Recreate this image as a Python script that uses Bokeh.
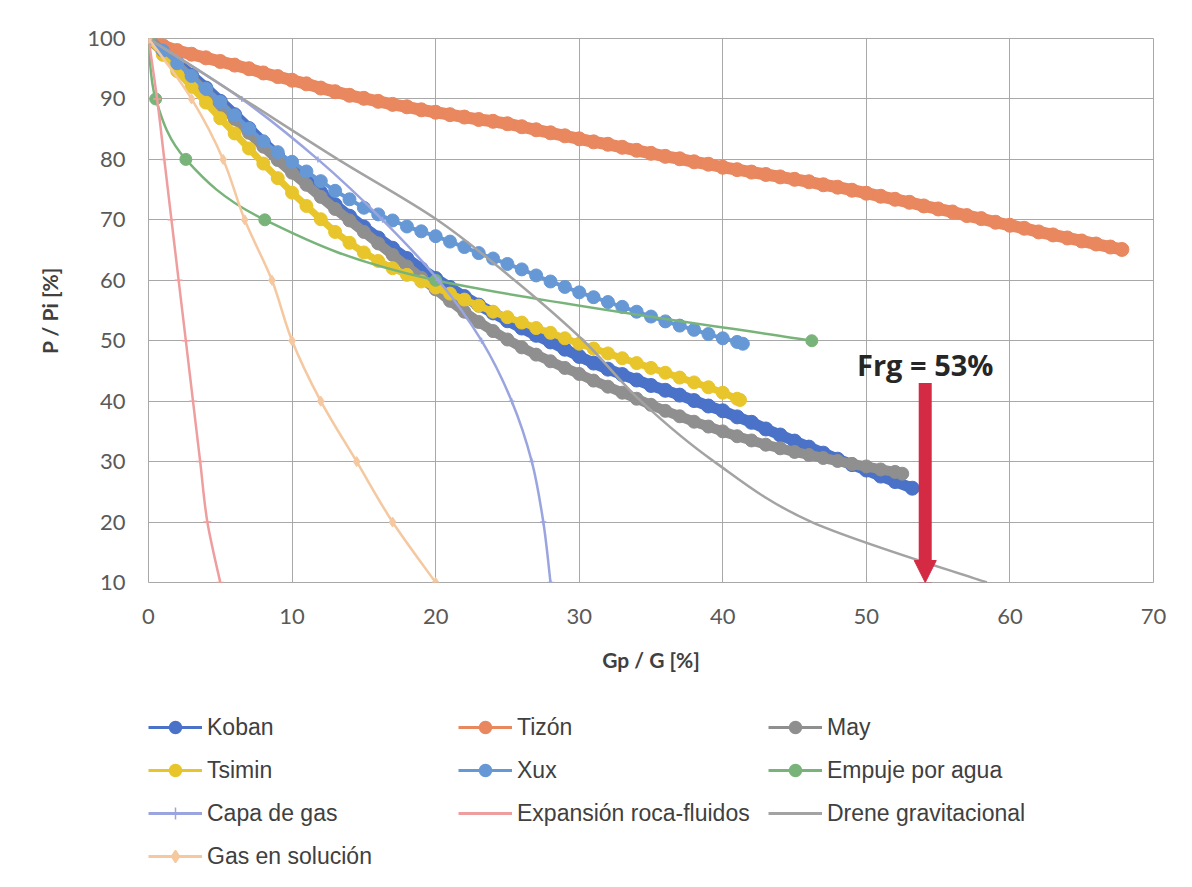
from bokeh.plotting import figure
from bokeh.layouts import column
from bokeh.models import Range1d, FixedTicker, Legend, LegendItem, Arrow, NormalHead, Label
from bokeh.embed import file_html
from bokeh.resources import INLINE

# ---------------- data ----------------
koban_x = [0, 1, 2, 3, 4, 5, 6, 7, 8, 9, 10, 11, 12, 13, 14, 15, 16, 17, 18, 19, 20,
           21, 22, 23, 24, 25, 26, 27, 28, 29, 30, 31, 32, 33, 34, 35, 36, 37, 38, 39, 40,
           41, 42, 43, 44, 45, 46, 47, 48, 49, 50, 51, 52, 53.2]
koban_y = [100, 98.0, 96.0, 93.9, 91.8, 89.6, 87.4, 85.1, 82.8, 80.6, 78.5, 76.5, 74.5, 72.5,
           70.6, 68.8, 67.0, 65.3, 63.6, 61.9, 60.3, 58.8, 57.3, 55.9, 54.6, 53.3, 52.1, 50.9,
           49.8, 48.6, 47.4, 46.3, 45.3, 44.4, 43.5, 42.6, 41.8, 41.0, 40.1, 39.2, 38.4, 37.4,
           36.5, 35.4, 34.4, 33.4, 32.4, 31.4, 30.4, 29.5, 28.6, 27.6, 26.7, 25.6]

tizon_x = [0, 1, 2, 3, 4, 5, 6, 7, 8, 9, 10, 11, 12, 13, 14, 15, 16, 17, 18, 19, 20,
           21, 22, 23, 24, 25, 26, 27, 28, 29, 30, 31, 32, 33, 34, 35, 36, 37, 38, 39, 40,
           41, 42, 43, 44, 45, 46, 47, 48, 49, 50, 51, 52, 53, 54, 55, 56, 57, 58, 59, 60,
           61, 62, 63, 64, 65, 66, 67, 67.8]
tizon_y = [100, 98.8, 98.0, 97.4, 96.8, 96.2, 95.6, 95.0, 94.3, 93.7, 93.1, 92.5, 91.8, 91.2,
           90.6, 90.1, 89.6, 89.1, 88.7, 88.2, 87.8, 87.4, 87.0, 86.6, 86.3, 85.9, 85.4, 84.9,
           84.4, 83.9, 83.4, 82.9, 82.5, 82.0, 81.5, 81.0, 80.5, 80.1, 79.6, 79.2, 78.7, 78.3,
           77.9, 77.5, 77.1, 76.7, 76.3, 75.8, 75.4, 74.9, 74.4, 73.9, 73.4, 72.9, 72.3, 71.8,
           71.3, 70.7, 70.2, 69.6, 69.1, 68.6, 68.0, 67.5, 67.0, 66.5, 66.0, 65.5, 65.1]

may_x = [0, 1, 2, 3, 4, 5, 6, 7, 8, 9, 10, 11, 12, 13, 14, 15, 16, 17, 18, 19, 20,
         21, 22, 23, 24, 25, 26, 27, 28, 29, 30, 31, 32, 33, 34, 35, 36, 37, 38, 39, 40,
         41, 42, 43, 44, 45, 46, 47, 48, 49, 50, 51, 52, 52.5]
may_y = [100, 97.8, 95.6, 93.4, 91.2, 89.0, 86.7, 84.4, 82.1, 79.9, 77.8, 75.8, 73.8, 71.8,
         69.9, 68.0, 66.1, 64.2, 62.3, 60.4, 58.5, 56.6, 54.8, 53.1, 51.6, 50.2, 48.9, 47.7,
         46.6, 45.5, 44.5, 43.4, 42.4, 41.4, 40.4, 39.4, 38.4, 37.5, 36.6, 35.8, 35.0, 34.2,
         33.5, 32.8, 32.2, 31.6, 31.1, 30.6, 30.1, 29.6, 29.2, 28.7, 28.3, 28.0]

tsimin_x = [0, 1, 2, 3, 4, 5, 6, 7, 8, 9, 10, 11, 12, 13, 14, 15, 16, 17, 18, 19, 20,
            21, 22, 23, 24, 25, 26, 27, 28, 29, 30, 31, 32, 33, 34, 35, 36, 37, 38, 39, 40,
            41, 41.2]
tsimin_y = [100, 97.3, 94.6, 92.0, 89.4, 86.8, 84.3, 81.8, 79.3, 76.9, 74.5, 72.3, 70.1, 68.0,
            66.2, 64.6, 63.2, 62.0, 60.9, 59.8, 58.8, 57.8, 56.8, 55.8, 54.8, 53.9, 53.0, 52.1,
            51.3, 50.4, 49.5, 48.7, 47.9, 47.1, 46.3, 45.5, 44.7, 43.9, 43.1, 42.3, 41.4, 40.4,
            40.2]

xux_x = [0, 1, 2, 3, 4, 5, 6, 7, 8, 9, 10, 11, 12, 13, 14, 15, 16, 17, 18, 19, 20,
         21, 22, 23, 24, 25, 26, 27, 28, 29, 30, 31, 32, 33, 34, 35, 36, 37, 38, 39, 40,
         41, 41.4]
xux_y = [100, 98.0, 95.9, 93.8, 91.7, 89.5, 87.3, 85.1, 83.0, 81.2, 79.6, 78.0, 76.4, 74.8,
         73.4, 72.0, 70.9, 69.9, 68.9, 68.1, 67.3, 66.4, 65.5, 64.5, 63.6, 62.7, 61.8, 60.8,
         59.8, 58.9, 58.0, 57.2, 56.4, 55.6, 54.8, 54.0, 53.2, 52.5, 51.8, 51.1, 50.4, 49.8,
         49.5]

empuje_x = [0, 0.5, 2.6, 8.1, 20.0, 46.2]
empuje_y = [100, 90, 80, 70, 60, 50]

capa_x = [0, 6.5, 11.8, 16.3, 20.2, 23.2, 25.3, 26.7, 27.5, 28.0]
capa_y = [100, 90, 80, 70, 60, 50, 40, 30, 20, 10]

expansion_x = [0, 0.6, 1.1, 1.6, 2.1, 2.6, 3.1, 3.6, 4.1, 5.0]
expansion_y = [100, 90, 80, 70, 60, 50, 40, 30, 20, 10]

drene_x = [0, 6.6, 13.2, 20.1, 25.5, 30.3, 34.3, 39.4, 46.2, 58.4]
drene_y = [100, 90, 80, 70, 60, 50, 40, 30, 20, 10]

gas_sol_x = [0, 3.0, 5.2, 6.7, 8.6, 10.0, 12.0, 14.5, 17.0, 20.0]
gas_sol_y = [100, 90, 80, 70, 60, 50, 40, 30, 20, 10]

x_ticks = [0, 10, 20, 30, 40, 50, 60, 70]
y_ticks = [10, 20, 30, 40, 50, 60, 70, 80, 90, 100]

frg_text = "Frg = 53%"
frg_x = 54.1
frg_top = 43.0
frg_bottom = 10.0
frg_label_y = 46.1

# ---------------- colours ----------------
C_KOBAN = "#4A72C8"
C_TIZON = "#E9875F"
C_MAY = "#8F8F8F"
C_TSIMIN = "#E8C52A"
C_XUX = "#6798D6"
C_EMPUJE = "#78B47A"
C_CAPA = "#9AA5E0"
C_EXP = "#EE9E9E"
C_DRENE = "#A3A3A3"
C_GASSOL = "#F5C8A0"
C_GRID = "#A8A8A8"
C_RED = "#D52A43"


def smooth(xs, ys):
    """Bezier control points (Catmull-Rom style, like Excel's smoothed lines)."""
    n = len(xs)
    d = dict(x0=[], y0=[], x1=[], y1=[], cx0=[], cy0=[], cx1=[], cy1=[])
    for i in range(n - 1):
        xm, ym = (xs[i - 1], ys[i - 1]) if i > 0 else (xs[i], ys[i])
        xp, yp = (xs[i + 2], ys[i + 2]) if i + 2 < n else (xs[i + 1], ys[i + 1])
        d["x0"].append(xs[i]); d["y0"].append(ys[i])
        d["x1"].append(xs[i + 1]); d["y1"].append(ys[i + 1])
        d["cx0"].append(xs[i] + (xs[i + 1] - xm) / 6.0)
        d["cy0"].append(ys[i] + (ys[i + 1] - ym) / 6.0)
        d["cx1"].append(xs[i + 1] - (xp - xs[i]) / 6.0)
        d["cy1"].append(ys[i + 1] - (yp - ys[i]) / 6.0)
    return d


p = figure(width=1192, height=685, x_range=Range1d(0, 70), y_range=Range1d(10, 100),
           output_backend="svg", toolbar_location=None,
           min_border_left=148, min_border_right=39, min_border_top=38, min_border_bottom=103)
p.background_fill_color = "white"
p.border_fill_color = "white"
p.outline_line_color = C_GRID
p.outline_line_width = 1

for ax, ticks in ((p.xaxis, x_ticks), (p.yaxis, y_ticks)):
    ax.ticker = FixedTicker(ticks=ticks)
    ax.axis_line_color = None
    ax.major_tick_line_color = None
    ax.minor_tick_line_color = None
    ax.major_tick_out = 0
    ax.major_tick_in = 0
    ax.major_label_text_font = "Lato"
    ax.major_label_text_font_size = "22px"
    ax.major_label_text_color = "#595959"
    ax.axis_label_text_font = "Lato"
    ax.axis_label_text_font_style = "bold"
    ax.axis_label_text_font_size = "21px"
    ax.axis_label_text_color = "#404040"

p.xaxis.axis_label = "Gp / G [%]"
p.yaxis.axis_label = "P / Pi [%]"
p.xaxis.major_label_standoff = 26
p.xaxis.axis_label_standoff = 20
p.yaxis.major_label_standoff = 23
p.yaxis.axis_label_standoff = 22

p.xgrid.ticker = FixedTicker(ticks=x_ticks)
p.ygrid.ticker = FixedTicker(ticks=y_ticks)
for g in (p.xgrid, p.ygrid):
    g.grid_line_color = C_GRID
    g.grid_line_width = 1

# ---------------- series ----------------
p.line(koban_x, koban_y, line_color=C_KOBAN, line_width=11, line_join="round", line_cap="round")
p.scatter(koban_x, koban_y, size=14, fill_color=C_KOBAN, line_color=C_KOBAN)

p.line(tizon_x, tizon_y, line_color=C_TIZON, line_width=12, line_join="round", line_cap="round")
p.scatter(tizon_x, tizon_y, size=14, fill_color=C_TIZON, line_color=C_TIZON)

p.line(may_x, may_y, line_color=C_MAY, line_width=10, line_join="round", line_cap="round")
p.scatter(may_x, may_y, size=13, fill_color=C_MAY, line_color=C_MAY)

p.line(tsimin_x, tsimin_y, line_color=C_TSIMIN, line_width=7, line_join="round", line_cap="round")
p.scatter(tsimin_x, tsimin_y, size=13, fill_color=C_TSIMIN, line_color=C_TSIMIN)

p.line(xux_x, xux_y, line_color=C_XUX, line_width=4, line_join="round")
p.scatter(xux_x, xux_y, size=13, fill_color=C_XUX, line_color=C_XUX)

p.bezier(line_color=C_EMPUJE, line_width=2.5, **smooth(empuje_x, empuje_y))
p.scatter(empuje_x, empuje_y, size=12, fill_color=C_EMPUJE, line_color=C_EMPUJE)

p.bezier(line_color=C_CAPA, line_width=2.5, **smooth(capa_x, capa_y))
p.scatter(capa_x, capa_y, marker="cross", size=6, line_color=C_CAPA, line_width=1.5)

p.bezier(line_color=C_EXP, line_width=2.5, **smooth(expansion_x, expansion_y))
p.scatter(expansion_x, expansion_y, marker="dash", size=8, line_color=C_EXP, line_width=1.5)

p.bezier(line_color=C_DRENE, line_width=2.5, **smooth(drene_x, drene_y))

p.bezier(line_color=C_GASSOL, line_width=2.5, **smooth(gas_sol_x, gas_sol_y))
p.scatter(gas_sol_x, gas_sol_y, marker="diamond", size=10, fill_color=C_GASSOL, line_color=C_GASSOL)

# ---------------- annotation: Frg arrow ----------------
p.add_layout(Arrow(end=NormalHead(size=22, fill_color=C_RED, line_color=C_RED, line_width=1),
                   x_start=frg_x, y_start=frg_top, x_end=frg_x, y_end=frg_bottom,
                   line_color=C_RED, line_width=13))
p.add_layout(Label(x=frg_x, y=frg_label_y, text=frg_text, text_align="center",
                   text_baseline="alphabetic", text_font="Open Sans", text_font_style="bold",
                   text_font_size="29px", text_color="#262626"))

# ---------------- legend (own panel below the chart) ----------------
q = figure(width=1192, height=202, x_range=Range1d(0, 1), y_range=Range1d(0, 1),
           output_backend="svg", toolbar_location=None, min_border=0)
q.axis.visible = False
q.grid.visible = False
q.outline_line_color = None
q.background_fill_color = "white"
q.border_fill_color = "white"

# legend swatches only: their single point lies outside the visible range
off_x = [-5, -4]
off_y = [-5, -5]


def leg(label, color, lw, marker=None, filled=True):
    rs = [q.line(off_x, off_y, line_color=color, line_width=lw)]
    if marker is not None:
        rs.append(q.scatter(off_x[:1], off_y[:1], marker=marker, size=12,
                            fill_color=color if filled else None, line_color=color, line_width=1.5))
    return LegendItem(label=label, renderers=rs, index=0)


items = [
    leg("Koban", C_KOBAN, 3, "circle"),
    leg("Tizón", C_TIZON, 3, "circle"),
    leg("May", C_MAY, 3, "circle"),
    leg("Tsimin", C_TSIMIN, 3, "circle"),
    leg("Xux", C_XUX, 3, "circle"),
    leg("Empuje por agua", C_EMPUJE, 3, "circle"),
    leg("Capa de gas", C_CAPA, 3, "cross", filled=False),
    leg("Expansión roca-fluidos", C_EXP, 3),
    leg("Drene gravitacional", C_DRENE, 3),
    leg("Gas en solución", C_GASSOL, 3, "diamond"),
]
legend = Legend(items=items, orientation="horizontal", ncols=3, location=(0, 16),
                glyph_width=54, glyph_height=30, label_height=30, label_width=238,
                label_standoff=5, spacing=13, padding=0, margin=0,
                border_line_color=None, background_fill_alpha=0,
                label_text_font="Liberation Sans", label_text_font_size="23px",
                label_text_color="#404040")
q.add_layout(legend, "center")

page = column(p, q, spacing=0)
open("out.html", "w").write(file_html(page, INLINE))
